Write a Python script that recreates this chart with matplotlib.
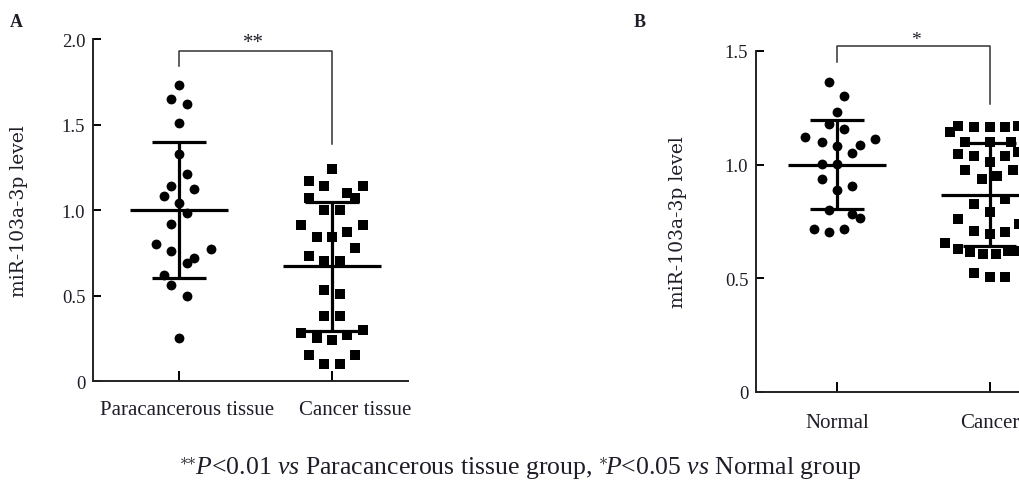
import matplotlib
matplotlib.use("Agg")
import matplotlib.pyplot as plt
from matplotlib.transforms import ScaledTranslation

plt.rcParams['font.family'] = ['Liberation Serif', 'DejaVu Serif']
plt.rcParams['mathtext.fontset'] = 'custom'
plt.rcParams['mathtext.rm'] = 'Liberation Serif'
plt.rcParams['mathtext.it'] = 'Liberation Serif:italic'

# ---- panel A: paracancerous vs cancer tissue ----
groups_a = ["Paracancerous tissue", "Cancer tissue"]
para_dx = [0.0, -0.05, 0.05, 0.0, 0.0, 0.05, -0.05, -0.10, 0.10, 0.0, 0.05,
           -0.05, -0.15, -0.05, 0.21, 0.10, 0.05, -0.10, -0.05, 0.05, 0.0]
para_y = [1.73, 1.65, 1.62, 1.51, 1.33, 1.21, 1.14, 1.08, 1.12, 1.04, 0.98,
          0.92, 0.80, 0.76, 0.77, 0.72, 0.69, 0.62, 0.56, 0.50, 0.25]
canc_dx = [0.0, -0.15, -0.05, 0.20, 0.10, -0.15, 0.15, -0.05, 0.05, -0.20, 0.20,
           -0.10, 0.0, 0.10, 0.15, -0.15, -0.05, 0.05, -0.05, 0.05, -0.05, 0.05,
           -0.20, 0.20, -0.10, 0.0, 0.10, -0.15, 0.15, -0.05, 0.05]
canc_y = [1.24, 1.17, 1.14, 1.14, 1.10, 1.07, 1.07, 1.00, 1.00, 0.91, 0.91,
          0.84, 0.84, 0.87, 0.78, 0.73, 0.70, 0.70, 0.53, 0.51, 0.38, 0.38,
          0.28, 0.30, 0.25, 0.24, 0.27, 0.15, 0.15, 0.10, 0.10]
mean_a = [1.0, 0.67]
sd_a = [0.40, 0.375]
yticks_a = [0, 0.5, 1.0, 1.5, 2.0]
ytlabels_a = ["0", "0.5", "1.0", "1.5", "2.0"]

# ---- panel B: normal vs cancer ----
groups_b = ["Normal", "Cancer"]
norm_dx = [-0.05, 0.05, 0.0, -0.05, 0.05, -0.21, 0.25, -0.10, 0.0, 0.15, 0.10,
           -0.10, 0.0, -0.10, 0.0, 0.10, -0.05, 0.10, 0.15, -0.15, -0.05, 0.05]
norm_y = [1.365, 1.30, 1.23, 1.18, 1.155, 1.12, 1.115, 1.10, 1.08, 1.085, 1.05,
          1.005, 1.005, 0.935, 0.89, 0.905, 0.80, 0.785, 0.765, 0.715, 0.705, 0.715]
cb_dx = [-0.26, -0.21, -0.10, 0.0, 0.10, 0.185, -0.16, 0.0, 0.14, -0.21, -0.10,
         0.10, 0.185, 0.0, -0.16, 0.15, -0.05, 0.05, 0.10, -0.10, 0.0, -0.21,
         0.195, -0.10, 0.0, 0.10, -0.29, -0.21, -0.13, -0.045, 0.04, 0.12, 0.185,
         -0.10, 0.0, 0.10]
cb_y = [1.145, 1.17, 1.165, 1.165, 1.165, 1.17, 1.10, 1.10, 1.10, 1.045, 1.04,
        1.04, 1.055, 1.01, 0.975, 0.975, 0.935, 0.95, 0.85, 0.825, 0.79, 0.76,
        0.74, 0.71, 0.695, 0.705, 0.655, 0.63, 0.615, 0.605, 0.605, 0.62, 0.62,
        0.525, 0.505, 0.505]
mean_b = [1.0, 0.868]
sd_b = [0.197, 0.227]
yticks_b = [0, 0.5, 1.0, 1.5]
ytlabels_b = ["0", "0.5", "1.0", "1.5"]

caption = (r"$^{\ast\!\!\ast}\!\mathit{P}$<0.01 $\mathit{vs}$ Paracancerous tissue group, "
           r"$^{\ast}\!\mathit{P}$<0.05 $\mathit{vs}$ Normal group")

fig = plt.figure(figsize=(10.2, 4.81), dpi=100)
txt = '#1e1e28'


def draw_panel(ax, pts, means, sds, groups, yticks, ytlabels, ymax, xlim, shifts):
    for i, (dx, ys, mk) in enumerate(pts):
        ax.scatter([i + d for d in dx], ys, marker=mk, s=50, color='black',
                   linewidths=0, zorder=3)
        ax.hlines(means[i], i - 0.32, i + 0.32, color='black', lw=2.3, zorder=4)
        ax.hlines([means[i] - sds[i], means[i] + sds[i]], i - 0.175, i + 0.175,
                  color='black', lw=2.3, zorder=4)
        ax.vlines(i, means[i] - sds[i], means[i] + sds[i], color='black', lw=2.3, zorder=4)
    ax.set_xlim(*xlim)
    ax.set_ylim(0, ymax)
    ax.spines['top'].set_visible(False)
    ax.spines['right'].set_visible(False)
    for s in ['left', 'bottom']:
        ax.spines[s].set_linewidth(1.4)
        ax.spines[s].set_color('#222222')
    ax.set_yticks(yticks)
    ax.set_yticklabels(ytlabels, fontsize=13.5, color=txt)
    ax.set_xticks([0, 1])
    ax.set_xticklabels(groups, fontsize=15, color=txt)
    ax.tick_params(axis='y', direction='in', length=6, width=1.4, pad=5.5)
    ax.tick_params(axis='x', direction='in', length=7, width=1.4, pad=14)
    for lbl, dx in zip(ax.get_xticklabels(), shifts):
        lbl.set_transform(lbl.get_transform() + ScaledTranslation(dx / 100, 0, fig.dpi_scale_trans))
    ax.set_ylabel("miR-103a-3p level", family='DejaVu Serif', fontsize=13.5, color=txt)


# panel A
axA = fig.add_axes([0.0912, 0.2058, 0.3088, 0.7110])
draw_panel(axA, [(para_dx, para_y, 'o'), (canc_dx, canc_y, 's')], mean_a, sd_a,
           groups_a, yticks_a, ytlabels_a, 2.0, (-0.562, 1.497), [8, 23])
axA.yaxis.set_label_coords(-0.205, 0.5)
axA.plot([0, 0, 1, 1], [1.84, 1.93, 1.93, 1.386], color='#333333', lw=1.1, clip_on=False)
axA.text(0.484, 1.955, "**", ha='center', va='baseline', fontsize=15, color=txt, clip_on=False)

# panel B (cut off at the right edge, like the source)
axB = fig.add_axes([0.7412, 0.1830, 0.3039, 0.7089])
draw_panel(axB, [(norm_dx, norm_y, 'o'), (cb_dx, cb_y, 's')], mean_b, sd_b,
           groups_b, yticks_b, ytlabels_b, 1.5, (-0.529, 1.5), [2, -4])
axB.tick_params(axis='x', pad=15)
axB.yaxis.set_label_coords(-0.223, 0.5)
axB.plot([0, 0, 1, 1], [1.452, 1.522, 1.522, 1.267], color='#333333', lw=1.1, clip_on=False)
axB.text(0.516, 1.53, "*", ha='center', va='baseline', fontsize=14, color=txt, clip_on=False)

fig.text(0.010, 0.944, "A", fontsize=13, fontweight='bold', color=txt)
fig.text(0.621, 0.944, "B", fontsize=13, fontweight='bold', color=txt)
fig.text(0.51, 0.015, caption, ha='center', va='baseline', fontsize=18.5, color=txt)

fig.savefig("out.png", dpi=100)
